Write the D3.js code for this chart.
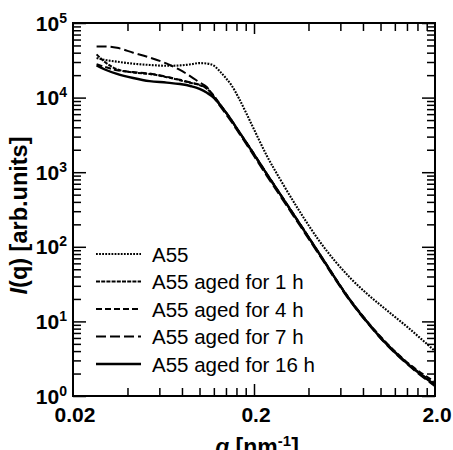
<!DOCTYPE html>
<html>
<head>
<meta charset="utf-8">
<title>SAXS A55</title>
<script src="https://cdnjs.cloudflare.com/ajax/libs/d3/7.8.5/d3.min.js"></script>
<style>
  body { margin: 0; background: #fff; }
  svg { display: block; font-family: Arial, "Liberation Sans", sans-serif; }
  .frame { fill: none; stroke: #000; stroke-width: 2; }
  .tick line { stroke: #000; stroke-width: 1.5; }
  .domain { display: none; }
  .curve { fill: none; stroke: #000; }
</style>
</head>
<body>
<script>
// q grid [nm^-1] shared by all curves
var qGrid = [0.027, 0.030, 0.035, 0.043, 0.053, 0.066, 0.078, 0.09, 0.10, 0.11, 0.12, 0.13, 0.14,
             0.15, 0.165, 0.18, 0.20, 0.235, 0.28, 0.36, 0.46, 0.68, 0.85, 1.03, 1.45, 2.0];
// intensities
var iA55 = [34000, 32000, 30300, 28500, 27400, 26700, 27000, 28000, 29000, 28600, 26800, 22300, 18200,
            14700, 9800, 6400, 3750, 1675, 790, 290, 119, 38.3, 23.0, 15.6, 7.9, 4.0];
var i1h  = [38000, 30000, 24000, 21700, 20700, 18800, 17100, 15700, 14700, 13100, 10400, 8000, 6300,
            4950, 3480, 2560, 1740, 950, 500, 200, 80, 19.3, 9.7, 5.7, 2.6, 1.45];
var i4h  = [28000, 25800, 23300, 22000, 21000, 19000, 17300, 15900, 14900, 13300, 10600, 8100, 6350,
            5000, 3520, 2580, 1760, 960, 505, 201, 81, 19.5, 9.8, 5.8, 2.65, 1.55];
var i7h  = [48500, 48500, 46500, 40000, 34500, 28500, 23500, 19000, 16000, 13800, 10100, 7700, 6000,
            4750, 3350, 2450, 1650, 900, 475, 190, 77, 18.7, 9.4, 5.5, 2.5, 1.35];
var i16h = [27000, 23800, 20800, 18300, 16600, 15900, 15200, 14200, 13100, 11600, 9950, 7960, 6300,
            4990, 3510, 2560, 1730, 950, 500, 198, 80, 19.1, 9.6, 5.6, 2.55, 1.4];

var seriesNames = ["A55", "A55 aged for 1 h", "A55 aged for 4 h", "A55 aged for 7 h", "A55 aged for 16 h"];
var seriesData  = [iA55, i1h, i4h, i7h, i16h];
var seriesDash  = ["1.8,1.3", "4,1.2", "6,3", "10,4", null];
var seriesWidth = [2.1, 2, 2, 2, 2.4];

// tick values
var xMinor = [0.04, 0.06, 0.08, 0.10, 0.12, 0.14, 0.16, 0.18, 0.4, 0.6, 0.8, 1.0, 1.2, 1.4, 1.6, 1.8];
var xMajor = [0.2];
var xLabels = [[0.02, "0.02"], [0.2, "0.2"], [2.0, "2.0"]];
var yExp = [0, 1, 2, 3, 4, 5];

var W = 453, H = 450;
var pLeft = 73, pRight = 435, pTop = 23, pBottom = 396;

var svg = d3.select("body").append("svg").attr("width", W).attr("height", H);

var x = d3.scaleLog().domain([0.02, 2.0]).range([pLeft, pRight]);
var y = d3.scaleLog().domain([1, 1e5]).range([pBottom, pTop]);

var yMinor = [];
yExp.slice(0, 5).forEach(function(e){
  for (var k = 2; k <= 9; k++) yMinor.push(k * Math.pow(10, e));
});
var yMajor = yExp.map(function(e){ return Math.pow(10, e); });

// ticks, all pointing inwards, on all four sides
function addAxis(axis, tr){
  svg.append("g").attr("transform", tr).call(axis);
}
addAxis(d3.axisBottom(x).tickValues(xMinor).tickSize(-8).tickFormat(""), "translate(0," + pBottom + ")");
addAxis(d3.axisBottom(x).tickValues(xMajor).tickSize(-12).tickFormat(""), "translate(0," + pBottom + ")");
addAxis(d3.axisTop(x).tickValues(xMinor).tickSize(-8).tickFormat(""), "translate(0," + pTop + ")");
addAxis(d3.axisTop(x).tickValues(xMajor).tickSize(-11).tickFormat(""), "translate(0," + pTop + ")");
addAxis(d3.axisLeft(y).tickValues(yMinor).tickSize(-8).tickFormat(""), "translate(" + pLeft + ",0)");
addAxis(d3.axisLeft(y).tickValues(yMajor).tickSize(-13).tickFormat(""), "translate(" + pLeft + ",0)");
addAxis(d3.axisRight(y).tickValues(yMinor).tickSize(-8).tickFormat(""), "translate(" + pRight + ",0)");
addAxis(d3.axisRight(y).tickValues(yMajor).tickSize(-13).tickFormat(""), "translate(" + pRight + ",0)");

// curves
var line = d3.line()
  .x(function(d){ return x(d[0]); })
  .y(function(d){ return y(d[1]); })
  .curve(d3.curveMonotoneX);

svg.append("defs").append("clipPath").attr("id", "clip")
  .append("rect").attr("x", pLeft).attr("y", pTop).attr("width", pRight - pLeft).attr("height", pBottom - pTop);

var gCurves = svg.append("g").attr("clip-path", "url(#clip)");
seriesData.forEach(function(vals, i){
  var pts = qGrid.map(function(q, j){ return [q, vals[j]]; });
  gCurves.append("path")
    .attr("class", "curve")
    .attr("d", line(pts))
    .attr("stroke-width", seriesWidth[i])
    .attr("stroke-dasharray", seriesDash[i]);
});

// frame
svg.append("rect").attr("class", "frame")
  .attr("x", pLeft).attr("y", pTop).attr("width", pRight - pLeft).attr("height", pBottom - pTop);

// x tick labels
svg.selectAll(".xlab").data(xLabels).enter().append("text")
  .attr("x", function(d){ return x(d[0]) + 2; })
  .attr("y", 422)
  .attr("text-anchor", "middle")
  .attr("font-size", 21).attr("font-weight", "bold")
  .text(function(d){ return d[1]; });

// y tick labels 10^n
yExp.forEach(function(e){
  var t = svg.append("text")
    .attr("x", 67).attr("y", y(Math.pow(10, e)) + 7.5)
    .attr("text-anchor", "end")
    .attr("font-size", 21).attr("font-weight", "bold");
  t.append("tspan").text("10");
  t.append("tspan").attr("font-size", 14).attr("dy", -8).text(e);
});

// axis titles
var xt = svg.append("text")
  .attr("x", (pLeft + pRight) / 2 + 3).attr("y", 455)
  .attr("text-anchor", "middle")
  .attr("font-size", 23).attr("font-weight", "bold");
xt.append("tspan").attr("font-style", "italic").text("q");
xt.append("tspan").text(" [nm");
xt.append("tspan").attr("font-size", 15).attr("dy", -9).text("-1");
xt.append("tspan").attr("dy", 9).text("]");

var yt = svg.append("text")
  .attr("transform", "translate(27," + ((pTop + pBottom) / 2 + 6) + ") rotate(-90)")
  .attr("text-anchor", "middle")
  .attr("font-size", 23.5).attr("font-weight", "bold");
yt.append("tspan").attr("font-style", "italic").text("I");
yt.append("tspan").text("(q) [arb.units]");

// legend
var legY0 = 254, legDy = 27.5;
seriesNames.forEach(function(name, i){
  var ly = legY0 + i * legDy;
  svg.append("line")
    .attr("x1", 96).attr("x2", 141).attr("y1", ly).attr("y2", ly)
    .attr("stroke", "#000")
    .attr("stroke-width", seriesWidth[i])
    .attr("stroke-dasharray", seriesDash[i]);
  svg.append("text")
    .attr("x", 152).attr("y", ly + 7.5)
    .attr("font-size", 20.5)
    .text(name);
});
</script>
</body>
</html>
